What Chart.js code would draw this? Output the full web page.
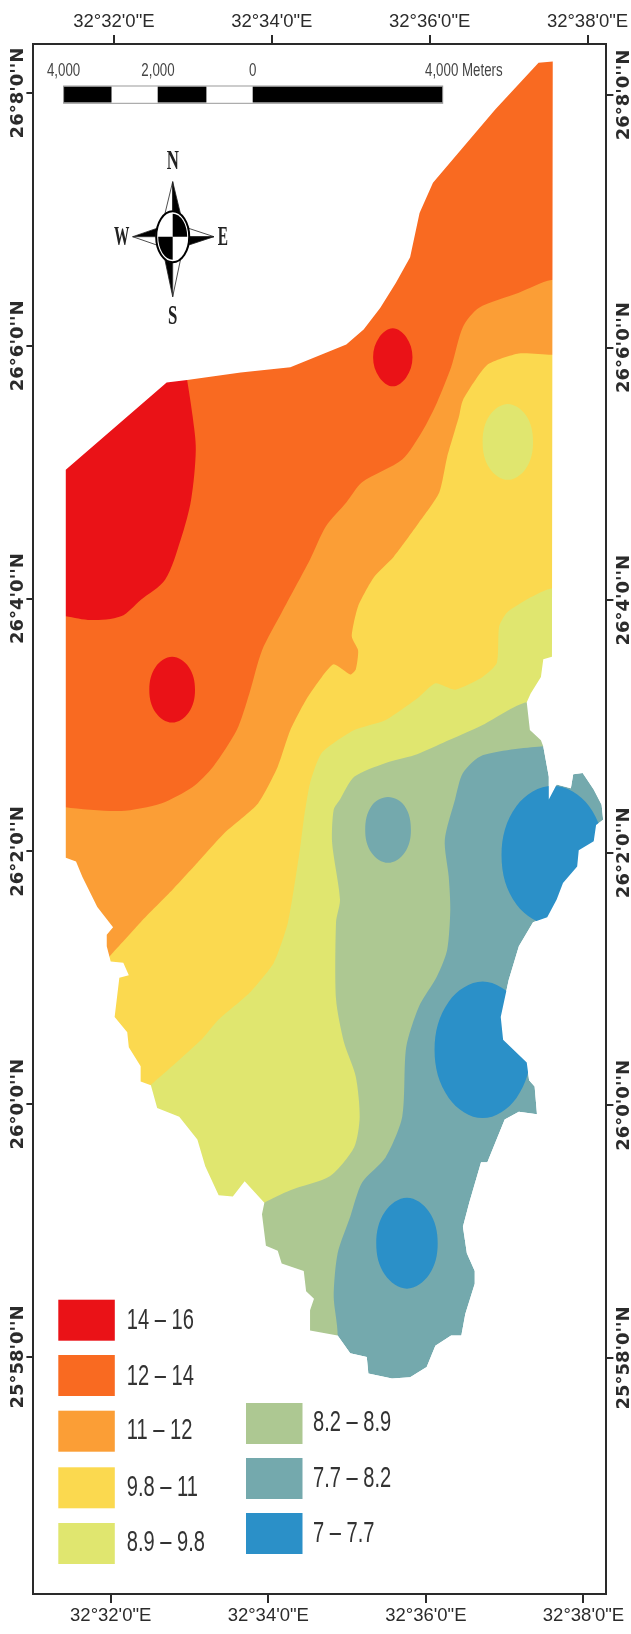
<!DOCTYPE html>
<html><head><meta charset="utf-8">
<style>html,body{margin:0;padding:0;background:#fff}canvas{display:block;filter:blur(.55px)}</style>
<script src="https://cdn.jsdelivr.net/npm/chart.js@4/dist/chart.umd.min.js"></script>
</head><body><canvas id="c" width="631" height="1634"></canvas>
<script>
// Longitude: arc-minutes past 32°; latitude: arc-minutes past 25°.
const lonTicks=[32,34,36,38];
const lonLabels=['32°32\'0"E','32°34\'0"E','32°36\'0"E','32°38\'0"E'];
const latTicks=[68,66,64,62,60,58];
const latLabels=["26°8'0''N","26°6'0''N","26°4'0''N","26°2'0''N","26°0'0''N","25°58'0''N"];
const classLabels=['14 – 16','12 – 14','11 – 12','9.8 – 11','8.9 – 9.8','8.2 – 8.9','7.7 – 8.2','7 – 7.7'];
const classColors=['#EA1217','#F96A21','#FB9E36','#FBD94F','#E0E66F','#ADC892','#74A9AD','#2B90C8'];
const boundary=[[31.43,65.02],[32.71,65.71],[32.97,65.73],[33.65,65.79],[34.28,65.83],[34.99,66.01],[35.21,66.13],[35.42,66.30],[35.62,66.50],[35.80,66.70],[35.92,67.05],[36.09,67.29],[36.47,67.57],[36.88,67.87],[37.43,68.24],[37.61,68.25],[37.60,63.54],[37.49,63.52],[37.46,63.38],[37.33,63.25],[37.28,63.18],[37.32,62.96],[37.46,62.88],[37.49,62.83],[37.56,62.59],[37.56,62.41],[37.66,62.53],[37.84,62.50],[37.87,62.61],[37.99,62.62],[38.13,62.49],[38.23,62.37],[38.25,62.25],[38.16,62.21],[38.13,62.08],[37.94,62.01],[37.92,61.88],[37.74,61.75],[37.66,61.62],[37.54,61.48],[37.36,61.44],[37.18,61.25],[37.05,60.98],[36.95,60.69],[36.98,60.51],[37.28,60.33],[37.31,60.19],[37.38,60.14],[37.41,59.92],[37.18,59.94],[37.00,59.88],[36.78,59.54],[36.70,59.54],[36.55,59.22],[36.47,59.03],[36.52,58.82],[36.62,58.68],[36.62,58.58],[36.50,58.34],[36.45,58.17],[36.32,58.17],[36.12,58.09],[36.01,57.92],[35.80,57.84],[35.57,57.83],[35.27,57.87],[35.25,58.00],[35.04,58.03],[34.88,58.17],[34.53,58.21],[34.53,58.37],[34.58,58.46],[34.48,58.52],[34.45,58.68],[34.17,58.74],[34.12,58.84],[33.97,58.88],[33.92,59.13],[33.95,59.22],[33.70,59.39],[33.55,59.27],[33.37,59.28],[33.20,59.51],[33.10,59.72],[32.87,59.90],[32.59,59.97],[32.51,60.15],[32.38,60.18],[32.38,60.30],[32.23,60.45],[32.21,60.57],[32.05,60.69],[32.11,61.00],[32.23,61.02],[32.16,61.12],[32.00,61.13],[31.95,61.25],[31.95,61.34],[32.03,61.40],[31.83,61.56],[31.64,61.80],[31.56,61.92],[31.43,61.95]];
const zone82=[[38.2,62.83],[37.46,62.83],[36.72,62.76],[36.47,62.62],[36.37,62.41],[36.24,62.09],[36.29,61.80],[36.31,61.54],[36.27,61.22],[36.14,61.01],[35.91,60.77],[35.75,60.45],[35.70,59.90],[35.49,59.58],[35.19,59.38],[35.04,59.11],[34.88,58.82],[34.83,58.48],[34.88,58.17],[34.78,57.66],[31.2,57.66],[31.2,68.3],[38.2,68.3]];
const zone89=[[38.2,63.18],[37.28,63.18],[36.72,63.00],[36.22,62.86],[35.85,62.76],[35.49,62.70],[35.09,62.59],[34.91,62.41],[34.83,62.33],[34.81,62.07],[34.91,61.62],[34.86,61.44],[34.86,60.83],[34.96,60.49],[35.11,60.22],[35.16,59.90],[35.09,59.66],[34.78,59.43],[34.28,59.32],[33.95,59.22],[33.51,59.01],[31.2,59.01],[31.2,68.3],[38.2,68.3]];
const zone98=[[38.2,64.08],[37.59,64.08],[37.33,64.01],[37.03,63.89],[36.93,63.78],[36.90,63.49],[36.72,63.38],[36.37,63.28],[36.12,63.33],[35.91,63.22],[35.49,63.04],[35.09,62.96],[34.68,62.78],[34.53,62.54],[34.45,62.25],[34.40,62.01],[34.25,61.44],[34.07,61.12],[33.76,60.88],[33.37,60.67],[33.15,60.51],[32.54,60.17],[32.25,60.04],[31.2,60.04],[31.2,68.3],[38.2,68.3]];
const zone11=[[38.2,65.93],[37.59,65.93],[37.18,65.94],[36.78,65.85],[36.47,65.57],[36.42,65.44],[36.27,65.12],[36.17,64.84],[35.91,64.60],[35.59,64.33],[35.34,64.17],[35.14,63.94],[35.06,63.70],[35.14,63.59],[35.11,63.44],[35.04,63.40],[34.83,63.48],[34.68,63.38],[34.48,63.20],[34.28,62.96],[34.12,62.67],[33.87,62.38],[33.45,62.15],[33.10,61.91],[32.79,61.70],[32.38,61.44],[32.03,61.20],[31.74,61.02],[31.2,61.02],[31.2,68.3],[38.2,68.3]];
const zone12=[[38.2,66.52],[37.59,66.52],[37.18,66.42],[36.67,66.30],[36.47,66.15],[36.32,65.83],[36.14,65.55],[35.96,65.33],[35.70,65.10],[35.19,64.92],[34.99,64.76],[34.73,64.57],[34.53,64.31],[34.17,63.89],[33.92,63.59],[33.76,63.25],[33.60,62.96],[33.30,62.67],[33.04,62.51],[32.64,62.38],[32.13,62.32],[31.43,62.35],[31.10,62.41],[31.10,68.3],[38.2,68.3]];
const zone14=[[31.43,63.86],[31.75,63.83],[32.13,63.86],[32.38,63.99],[32.69,64.15],[32.89,64.47],[33.02,64.78],[33.08,65.18],[33.04,65.44],[32.97,65.73],[32.88,66.05],[31.2,66.05],[31.2,63.86]];
const spotRedNorth=[[35.58,66.14],[35.75,66.07],[35.83,65.91],[35.75,65.75],[35.58,65.68],[35.41,65.75],[35.33,65.91],[35.41,66.07]];
const spotRedWest=[[32.78,63.54],[32.99,63.46],[33.07,63.28],[32.99,63.10],[32.78,63.02],[32.57,63.10],[32.49,63.28],[32.57,63.46]];
const spotGreen=[[37.04,65.54],[37.27,65.45],[37.36,65.24],[37.27,65.03],[37.04,64.94],[36.81,65.03],[36.72,65.24],[36.81,65.45]];
const spotTeal=[[35.52,62.43],[35.73,62.36],[35.81,62.17],[35.73,61.99],[35.52,61.91],[35.31,61.99],[35.23,62.17],[35.31,62.36]];
const spotBlueEast=[[37.61,62.52],[38.07,62.36],[38.26,61.97],[38.07,61.58],[37.61,61.42],[37.15,61.58],[36.96,61.97],[37.15,62.36]];
const spotBlueMid=[[36.72,60.97],[37.15,60.81],[37.33,60.43],[37.15,60.05],[36.72,59.89],[36.29,60.05],[36.11,60.43],[36.29,60.81]];
const spotBlueSouth=[[35.76,59.26],[36.04,59.15],[36.15,58.90],[36.04,58.65],[35.76,58.54],[35.48,58.65],[35.37,58.90],[35.48,59.15]];

const xRange=[31.019,38.291], x2Range=[30.98,38.239], yRange=[56.125,68.388], y2Range=[56.131,68.404];
const FRAME={left:33.4,right:606.4,top:44,bottom:1594};
const SANS='"Liberation Sans",Arial,sans-serif';
const AXIS_COL='#2a2a2a';

const xy=p=>({x:p[0],y:p[1]});
const poly=(pts,color,tension)=>({data:pts.map(xy),backgroundColor:color,borderWidth:0,pointRadius:0,showLine:true,fill:'shape',tension:tension||0});
const spot=(pts,color)=>poly([pts[7],...pts,pts[0],pts[1]],color,.375);
const maskPath=[[xRange[0],yRange[1]],[xRange[0],yRange[0]],[xRange[1],yRange[0]],[xRange[1],yRange[1]],[xRange[0],yRange[1]],...boundary,boundary[0],[xRange[0],yRange[1]]];
const [cRed,cOrange,cLOrange,cYellow,cGreen,cSage,cTeal,cBlue]=classColors;
const layers=[
 poly(boundary,cTeal),
 poly(zone82,cSage,.25),poly(zone89,cGreen,.25),poly(zone98,cYellow,.2),poly(zone11,cLOrange,.2),poly(zone12,cOrange,.25),poly(zone14,cRed,.3),
 spot(spotRedNorth,cRed),spot(spotRedWest,cRed),spot(spotGreen,cGreen),spot(spotTeal,cTeal),
 spot(spotBlueEast,cBlue),spot(spotBlueMid,cBlue),spot(spotBlueSouth,cBlue),
 poly(maskPath,'#ffffff')
];
layers.forEach((d,i)=>{d.order=layers.length-i});

function stretched(ctx,text,x,y,font,sx,align,color){
  ctx.save();ctx.font=font;ctx.fillStyle=color||'#333';ctx.textAlign=align||'left';ctx.textBaseline='middle';
  ctx.translate(x,y);ctx.scale(sx,1);ctx.fillText(text,0,0);ctx.restore();
}
const decorations={id:'decorations',afterDraw(chart){
  const c=chart.ctx;
  // Scale bar
  const stops=[63.6,111.5,157.7,206.4,252.7,442.7];
  c.save();
  c.fillStyle='#fff';c.fillRect(63.6,86,379.1,17.3);
  c.fillStyle='#000';
  for(let i=0;i<5;i+=2)c.fillRect(stops[i],86.5,stops[i+1]-stops[i],16);
  c.strokeStyle='#999';c.lineWidth=1;c.strokeRect(63.6,86,379.1,17.3);
  c.restore();
  const sFont='19px '+SANS;
  stretched(c,'4,000',63.6,71,sFont,.7,'center','#444');
  stretched(c,'2,000',158,71,sFont,.7,'center','#444');
  stretched(c,'0',252.7,71,sFont,.7,'center','#444');
  stretched(c,'4,000 Meters',425,71,sFont,.7,'left','#444');
  // Compass
  const cx=172.7,cy=236.7;
  const tri=(a,b,d,fill)=>{c.beginPath();c.moveTo(a[0],a[1]);c.lineTo(b[0],b[1]);c.lineTo(d[0],d[1]);c.closePath();c.fillStyle=fill;c.fill();c.strokeStyle='#222';c.lineWidth=.8;c.stroke();};
  const N=[cx,181.7],S=[cx,296.7],W=[132.7,cy],E=[214,cy],o=[cx,cy];
  c.save();
  tri(N,o,[cx-8,cy-22],'#fff');tri(N,o,[cx+8,cy-22],'#000');
  tri(S,o,[cx-8,cy+22],'#000');tri(S,o,[cx+8,cy+22],'#fff');
  tri(W,o,[cx-14,cy-9],'#000');tri(W,o,[cx-14,cy+9],'#fff');
  tri(E,o,[cx+14,cy-9],'#fff');tri(E,o,[cx+14,cy+9],'#000');
  c.beginPath();c.ellipse(cx,cy,17,26,0,0,Math.PI*2);c.fillStyle='#fff';c.fill();
  c.fillStyle='#000';
  c.beginPath();c.moveTo(cx,cy);c.ellipse(cx,cy,14.5,23,0,-Math.PI/2,0);c.closePath();c.fill();
  c.beginPath();c.moveTo(cx,cy);c.ellipse(cx,cy,14.5,23,0,Math.PI/2,Math.PI);c.closePath();c.fill();
  c.beginPath();c.ellipse(cx,cy,16.5,25.5,0,0,Math.PI*2);c.strokeStyle='#000';c.lineWidth=2;c.stroke();
  c.restore();
  const cFont='bold 28px "Liberation Serif",serif';
  stretched(c,'N',172.7,162,cFont,.6,'center','#222');
  stretched(c,'S',172.7,317,cFont,.6,'center','#222');
  stretched(c,'W',121.7,238,cFont,.55,'center','#222');
  stretched(c,'E',223,238,cFont,.55,'center','#222');
  // Legend
  const lFont='30px '+SANS;
  const rows=[[58.3,1299.7,1321],[58.3,1355,1377],[58.3,1410.7,1431],[58.3,1467.3,1488],[58.3,1523,1543],[246,1403,1423],[246,1458,1479],[246,1513,1534]];
  classLabels.forEach((lab,i)=>{
    const r=rows[i];
    c.fillStyle=classColors[i];c.fillRect(r[0],r[1],56.5,41);
    stretched(c,lab,i<5?126.8:313,r[2],lFont,.67,'left','#333');
  });
}};

const axisCommon={grid:{drawOnChartArea:false,drawTicks:true,color:AXIS_COL,lineWidth:2},border:{display:true,color:AXIS_COL,width:2,z:2}};
function xAxis(range,pos,h){return {type:'linear',axis:'x',position:pos,min:range[0],max:range[1],...axisCommon,
  grid:{...axisCommon.grid,tickLength:9},
  afterBuildTicks:s=>{s.ticks=lonTicks.map(value=>({value}))},
  afterFit:s=>{s.height=h;s.paddingLeft=0;s.paddingRight=0},
  ticks:{autoSkip:false,maxRotation:0,minRotation:0,padding:2,color:'#2b2b2b',font:{family:SANS,size:18.5},callback:(v,i)=>lonLabels[i]}};}
function yAxis(range,pos,w,pad){return {type:'linear',axis:'y',position:pos,min:range[0],max:range[1],...axisCommon,
  grid:{...axisCommon.grid,tickLength:7},
  afterBuildTicks:s=>{s.ticks=latTicks.map(value=>({value}))},
  afterFit:s=>{s.width=w;s.paddingTop=0;s.paddingBottom=0},
  ticks:{autoSkip:false,minRotation:90,maxRotation:90,crossAlign:'center',padding:pad,color:'#2b2b2b',font:{family:'"DejaVu Sans",sans-serif',size:18,weight:'bold'},callback:(v,i)=>latLabels[i]}};}

new Chart(document.getElementById('c'),{
  type:'scatter',
  data:{datasets:layers},
  plugins:[decorations],
  options:{
    responsive:false,animation:false,
    layout:{padding:0},
    plugins:{legend:{display:false},tooltip:{enabled:false}},
    scales:{
      x:xAxis(xRange,'bottom',1634-FRAME.bottom),
      x2:xAxis(x2Range,'top',FRAME.top),
      y:yAxis(yRange,'left',FRAME.left,-44),
      y2:yAxis(y2Range,'right',631-FRAME.right,-41)
    }
  }
});
</script></body></html>
